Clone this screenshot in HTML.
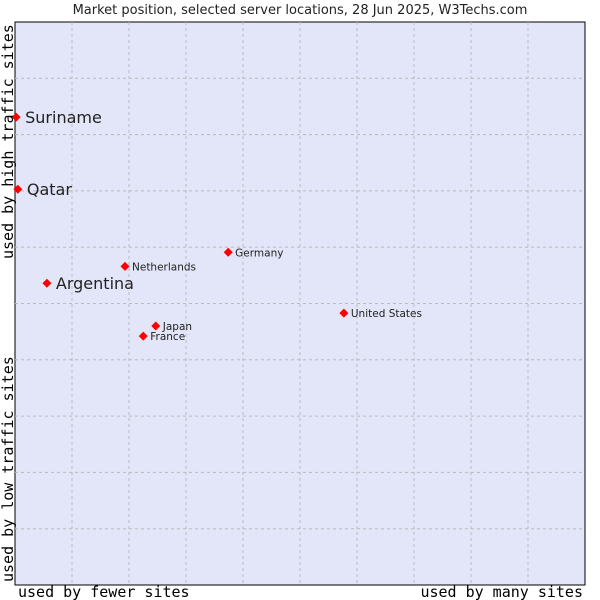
<!DOCTYPE html>
<html><head><meta charset="utf-8"><style>
body{margin:0;background:#fff;}
svg{display:block;}
</style></head><body>
<svg id="chart" width="600" height="600" xmlns="http://www.w3.org/2000/svg">
<text x="300" y="14" text-anchor="middle" font-family="DejaVu Sans, sans-serif" font-size="13" fill="#222">Market position, selected server locations, 28 Jun 2025, W3Techs.com</text>
<rect x="15" y="22" width="570" height="563" fill="#e3e5f8" stroke="#000" stroke-width="1"/>
<g id="grid"></g>
<g id="marks"></g>
<text x="18" y="597" font-family="DejaVu Sans Mono, monospace" font-size="15" fill="#000">used by fewer sites</text>
<text x="583" y="597" text-anchor="end" font-family="DejaVu Sans Mono, monospace" font-size="15" fill="#000">used by many sites</text>
<text transform="translate(13,259) rotate(-90)" font-family="DejaVu Sans Mono, monospace" font-size="15" fill="#000">used by high traffic sites</text>
<text transform="translate(13,582) rotate(-90)" font-family="DejaVu Sans Mono, monospace" font-size="15" fill="#000">used by low traffic sites</text>
</svg>
<script>
const countries=["Suriname","Qatar","Argentina","Netherlands","Germany","United States","Japan","France"];
const xValues=[0.2,0.5,5.6,19.3,37.4,57.7,24.7,22.5];
const yValues=[83.1,70.3,53.6,56.6,59.1,48.3,46.0,44.2];
const highlighted=[true,true,true,false,false,false,false,false];
const gridTicks=[10,20,30,40,50,60,70,80,90];
const NS="http://www.w3.org/2000/svg";
const X0=15,X1=585,Y0=585,Y1=22;
function sx(v){return X0+(X1-X0)*v/100;}
function sy(v){return Y0-(Y0-Y1)*v/100;}
const grid=document.getElementById('grid');
gridTicks.forEach(t=>{
  const v=document.createElementNS(NS,'line');
  
  
  v.setAttribute('x1',sx(t));v.setAttribute('x2',sx(t));v.setAttribute('y1',Y1);v.setAttribute('y2',Y0);
  v.setAttribute('stroke','#bbbbbb');v.setAttribute('stroke-dasharray','3,3');
  grid.appendChild(v);
  const h=document.createElementNS(NS,'line');
  
  
  h.setAttribute('y1',sy(t));h.setAttribute('y2',sy(t));h.setAttribute('x1',X0);h.setAttribute('x2',X1);
  h.setAttribute('stroke','#bbbbbb');h.setAttribute('stroke-dasharray','3,3');
  grid.appendChild(h);
});
const marks=document.getElementById('marks');
countries.forEach((c,i)=>{
  const x=sx(xValues[i]),y=sy(yValues[i]);
  const p=document.createElementNS(NS,'polygon');
  
  
  p.setAttribute('points',`${x},${y-4.5} ${x+4.5},${y} ${x},${y+4.5} ${x-4.5},${y}`);
  p.setAttribute('fill','#f00');
  marks.appendChild(p);
  const t=document.createElementNS(NS,'text');
  
  
  const big=highlighted[i];
  t.setAttribute('x',x+(big?9:7));
  t.setAttribute('y',y+(big?6:4));
  t.setAttribute('font-family','DejaVu Sans, sans-serif');
  t.setAttribute('font-size',big?16:10.5);
  t.setAttribute('fill','#222');
  t.textContent=c;
  marks.appendChild(t);
});
</script>
</body></html>
